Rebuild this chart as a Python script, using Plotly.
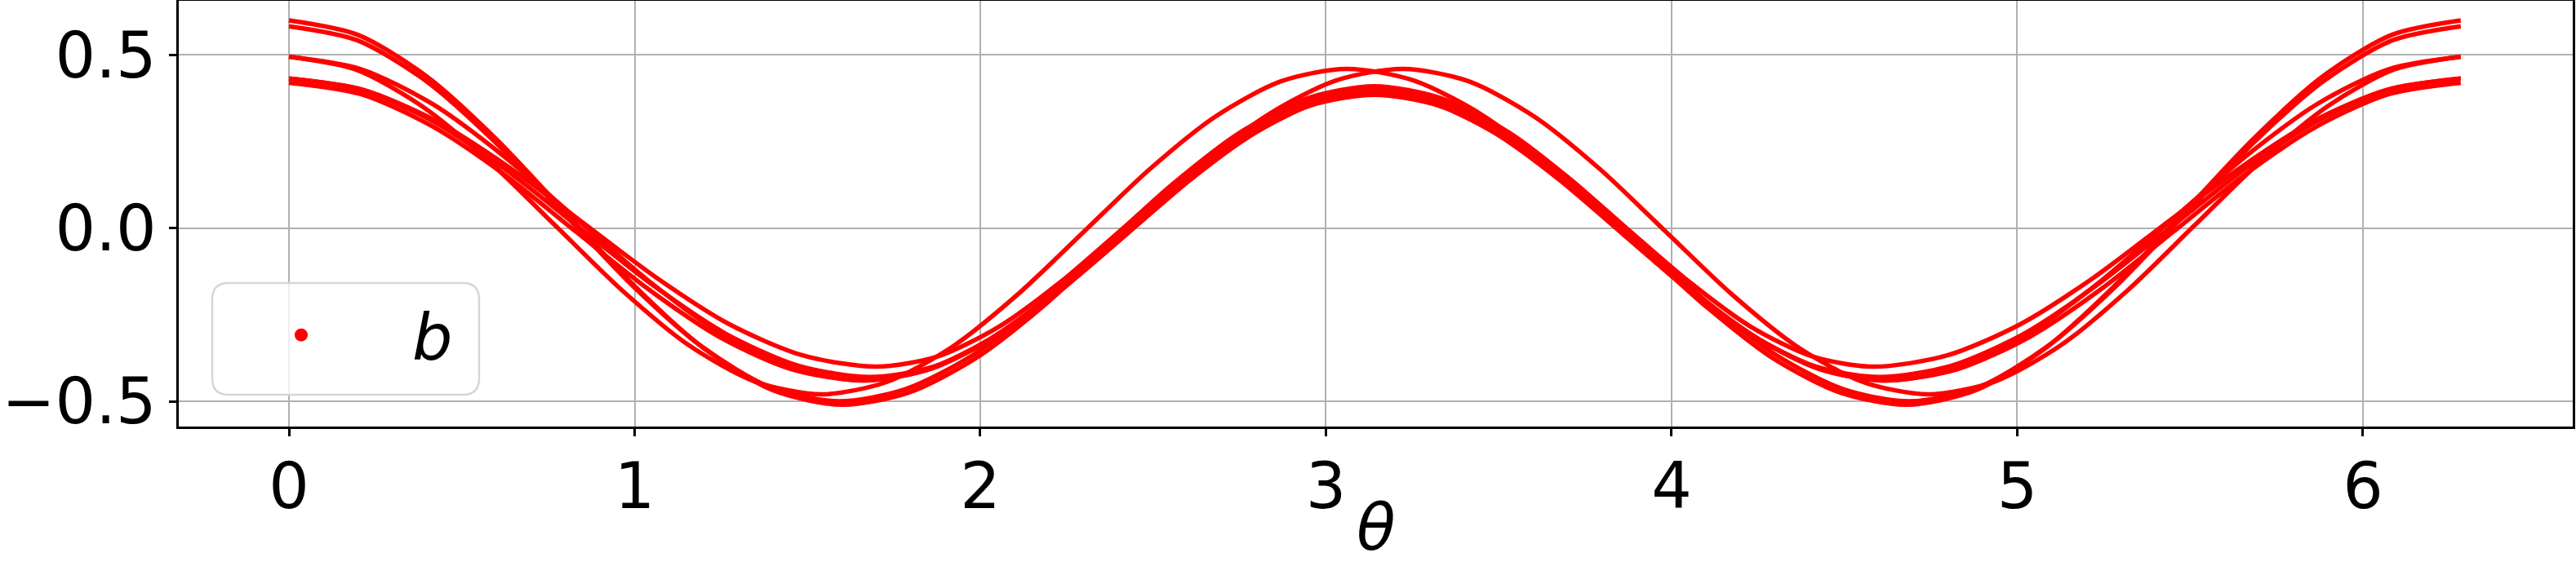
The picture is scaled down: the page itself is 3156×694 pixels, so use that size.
import plotly.graph_objects as go

# ---- data (theta in rad, b values) ----
THETA_A = [0, 0.2, 0.4, 0.6, 0.8, 1.0, 1.2, 1.4,
           1.6, 1.793, 1.985, 2.178, 2.37, 2.563, 2.755, 2.948,
           3.14, 3.333, 3.525, 3.718, 3.91, 4.103, 4.295, 4.488,
           4.68, 4.880, 5.081, 5.281, 5.482, 5.682, 5.882, 6.083, 6.283]
B_A = [0.600, 0.558, 0.437, 0.257, 0.045, -0.167, -0.347, -0.468,
       -0.510, -0.475, -0.377, -0.229, -0.055, 0.119, 0.267, 0.365,
       0.400, 0.365, 0.267, 0.119, -0.055, -0.229, -0.377, -0.475,
       -0.510, -0.468, -0.347, -0.167, 0.045, 0.257, 0.437, 0.558, 0.600]

THETA_B = [0, 0.199, 0.398, 0.596, 0.795, 0.994, 1.193, 1.391,
           1.59, 1.784, 1.978, 2.171, 2.365, 2.559, 2.753, 2.946,
           3.14, 3.334, 3.528, 3.721, 3.915, 4.109, 4.303, 4.496,
           4.69, 4.889, 5.088, 5.287, 5.487, 5.686, 5.885, 6.084, 6.283]
B_B = [0.583, 0.542, 0.424, 0.249, 0.042, -0.166, -0.341, -0.459,
       -0.500, -0.465, -0.367, -0.219, -0.045, 0.129, 0.277, 0.375,
       0.410, 0.375, 0.277, 0.129, -0.045, -0.219, -0.367, -0.465,
       -0.500, -0.459, -0.341, -0.166, 0.042, 0.249, 0.424, 0.542, 0.583]

THETA_C = [0, 0.193, 0.385, 0.578, 0.770, 0.963, 1.155, 1.348,
           1.54, 1.73, 1.92, 2.11, 2.30, 2.49, 2.68, 2.87,
           3.06, 3.255, 3.45, 3.645, 3.84, 4.035, 4.23, 4.425,
           4.62, 4.828, 5.036, 5.244, 5.452, 5.659, 5.867, 6.075, 6.283]
B_C = [0.495, 0.458, 0.352, 0.194, 0.008, -0.179, -0.337, -0.443,
       -0.480, -0.444, -0.342, -0.190, -0.010, 0.170, 0.322, 0.424,
       0.460, 0.426, 0.328, 0.182, 0.010, -0.162, -0.308, -0.406,
       -0.440, -0.404, -0.303, -0.151, 0.028, 0.206, 0.358, 0.459, 0.495]

THETA_C2 = [0, 0.208, 0.416, 0.624, 0.831, 1.039, 1.247, 1.455,
            1.663, 1.858, 2.053, 2.248, 2.443, 2.638, 2.833, 3.028,
            3.223, 3.413, 3.603, 3.793, 3.983, 4.173, 4.363, 4.553,
            4.743, 4.935, 5.128, 5.320, 5.513, 5.705, 5.898, 6.090, 6.283]
B_C2 = [0.495, 0.459, 0.358, 0.206, 0.028, -0.151, -0.303, -0.404,
        -0.440, -0.406, -0.308, -0.162, 0.010, 0.182, 0.328, 0.426,
        0.460, 0.424, 0.322, 0.170, -0.010, -0.190, -0.342, -0.444,
        -0.480, -0.443, -0.337, -0.179, 0.008, 0.194, 0.352, 0.458, 0.495]

THETA_D = [0, 0.213, 0.425, 0.638, 0.85, 1.063, 1.275, 1.488,
           1.70, 1.878, 2.055, 2.233, 2.41, 2.588, 2.765, 2.943,
           3.12, 3.305, 3.49, 3.675, 3.86, 4.045, 4.23, 4.415,
           4.60, 4.810, 5.021, 5.231, 5.442, 5.652, 5.862, 6.073, 6.283]
B_D = [0.432, 0.400, 0.310, 0.175, 0.016, -0.143, -0.278, -0.368,
       -0.400, -0.370, -0.284, -0.155, -0.003, 0.150, 0.279, 0.365,
       0.395, 0.364, 0.274, 0.140, -0.018, -0.175, -0.309, -0.399,
       -0.430, -0.397, -0.304, -0.164, 0.001, 0.166, 0.306, 0.399, 0.432]

THETA_D2 = [0, 0.210, 0.421, 0.631, 0.841, 1.052, 1.262, 1.473,
            1.683, 1.868, 2.053, 2.238, 2.423, 2.608, 2.793, 2.978,
            3.163, 3.341, 3.518, 3.696, 3.873, 4.051, 4.228, 4.406,
            4.583, 4.796, 5.008, 5.221, 5.433, 5.646, 5.858, 6.071, 6.283]
B_D2 = [0.432, 0.399, 0.306, 0.166, 0.001, -0.164, -0.304, -0.397,
        -0.430, -0.399, -0.309, -0.175, -0.018, 0.140, 0.274, 0.364,
        0.395, 0.365, 0.279, 0.150, -0.003, -0.155, -0.284, -0.370,
        -0.400, -0.368, -0.278, -0.143, 0.016, 0.175, 0.310, 0.400, 0.432]

THETA_E = [0, 0.208, 0.415, 0.623, 0.83, 1.038, 1.245, 1.453,
           1.66, 1.845, 2.03, 2.215, 2.40, 2.585, 2.77, 2.955,
           3.14, 3.325, 3.51, 3.695, 3.88, 4.065, 4.25, 4.435,
           4.62, 4.828, 5.036, 5.244, 5.452, 5.659, 5.867, 6.075, 6.283]
B_E = [0.420, 0.387, 0.294, 0.155, -0.010, -0.175, -0.314, -0.407,
       -0.440, -0.409, -0.319, -0.185, -0.028, 0.130, 0.264, 0.354,
       0.385, 0.354, 0.264, 0.130, -0.028, -0.185, -0.319, -0.409,
       -0.440, -0.407, -0.314, -0.175, -0.010, 0.155, 0.294, 0.387, 0.420]

X_TICKS = [0, 1, 2, 3, 4, 5, 6]
X_TICK_LABELS = ["0", "1", "2", "3", "4", "5", "6"]
Y_TICKS = [-0.5, 0.0, 0.5]
Y_TICK_LABELS = ["\u22120.5", "0.0", "0.5"]
SERIES_NAME = "b"
X_LABEL = "\u03b8"

CURVES = [(THETA_A, B_A), (THETA_B, B_B), (THETA_C, B_C), (THETA_C2, B_C2),
          (THETA_D, B_D), (THETA_D2, B_D2), (THETA_E, B_E)]

RED = "#ff0000"
FONT = "DejaVu Sans"
FS = 78

fig = go.Figure()
for xs, ys in CURVES:
    fig.add_trace(go.Scatter(x=xs, y=ys, mode="lines",
                             line=dict(color=RED, width=5.5, shape="spline", smoothing=0.8),
                             showlegend=False, hoverinfo="skip"))

# legend entry (dot marker)
fig.add_trace(go.Scatter(x=[None], y=[None], mode="markers", name="<i>" + SERIES_NAME + "</i>",
                         marker=dict(color=RED, size=16), showlegend=True))

W, H = 3156, 694
L, R, T, B = 219, 4, 1, 171
pw, ph = W - L - R, H - T - B

def px2paper(px, py):
    return (px - L) / pw, (H - B - py) / ph

# rounded legend frame
x0, y0 = px2paper(260, 484)
x1, y1 = px2paper(587, 347)
rx, ry = 20 / pw, 20 / ph
path = (f"M {x0+rx},{y0} L {x1-rx},{y0} Q {x1},{y0} {x1},{y0+ry} "
        f"L {x1},{y1-ry} Q {x1},{y1} {x1-rx},{y1} L {x0+rx},{y1} "
        f"Q {x0},{y1} {x0},{y1-ry} L {x0},{y0+ry} Q {x0},{y0} {x0+rx},{y0} Z")
fig.add_shape(type="path", path=path, xref="paper", yref="paper",
              line=dict(color="#d6d6d6", width=2.5), fillcolor="rgba(255,255,255,0.8)",
              layer="above")

lx, ly = px2paper(233, 411)

# x-axis label as annotation, kept just inside the bottom edge
_, ty = px2paper(0, 693)
fig.add_annotation(text="<i>" + X_LABEL + "</i>", xref="paper", yref="paper",
                   x=0.5, y=ty, xanchor="center", yanchor="bottom", showarrow=False,
                   borderpad=0, font=dict(family=FONT, size=FS, color="black"))

fig.update_layout(
    width=W, height=H,
    margin=dict(l=L, r=R, t=T, b=B, pad=0, autoexpand=False),
    paper_bgcolor="white", plot_bgcolor="white",
    font=dict(family=FONT, size=FS, color="black"),
    showlegend=True,
    legend=dict(x=lx, y=ly, xanchor="left", yanchor="middle",
                bgcolor="rgba(0,0,0,0)", borderwidth=0,
                font=dict(family=FONT, size=FS, color="black"),
                itemwidth=262, tracegroupgap=0),
    xaxis=dict(range=[-0.3188, 6.607], tickvals=X_TICKS, ticktext=X_TICK_LABELS,
               automargin=False,
               showgrid=True, gridcolor="#b0b0b0", gridwidth=2, zeroline=False,
               showline=True, linecolor="black", linewidth=2.5, mirror=True,
               ticks="outside", ticklen=9, tickwidth=2.5, tickcolor="black",
               ticklabelstandoff=-5,
               tickfont=dict(family=FONT, size=FS)),
    yaxis=dict(range=[-0.573, 0.6565], tickvals=Y_TICKS, ticktext=Y_TICK_LABELS,
               automargin=False,
               showgrid=True, gridcolor="#b0b0b0", gridwidth=2, zeroline=False,
               showline=True, linecolor="black", linewidth=2.5, mirror=True,
               ticks="outside", ticklen=9, tickwidth=2.5, tickcolor="black",
               tickfont=dict(family=FONT, size=FS)),
)

fig.write_html("out.html",
               config={"displayModeBar": False},
               post_script="document.body.style.margin='0';document.body.style.padding='0';"
                           "document.documentElement.style.overflow='hidden';")
